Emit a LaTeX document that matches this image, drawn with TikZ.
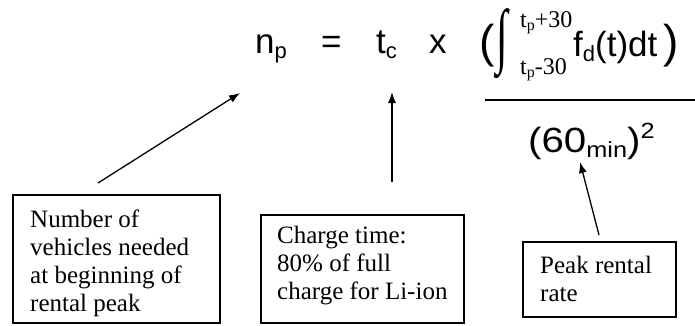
\documentclass[tikz,border=0pt]{standalone}
\usepackage{fontspec}
\setmainfont{Liberation Serif}
\newfontfamily\eqf{Liberation Sans}
\usetikzlibrary{arrows.meta}
\tikzset{
  eqtext/.style={anchor=base west, inner sep=0pt, font=\eqf\fontsize{35}{35}\selectfont},
  limtext/.style={anchor=base west, inner sep=0pt, font=\fontsize{24}{24}\selectfont},
  boxtext/.style={anchor=base west, inner sep=0pt, align=left, font=\fontsize{25}{28}\selectfont},
  frame/.style={draw, line width=1.4pt},
  pointer/.style={line width=1.3pt, -{Latex[length=11pt,width=8pt]}},
}
\newcommand{\lsub}[2]{\raisebox{#1}{\fontsize{22}{22}\selectfont #2}}
\newcommand{\ssub}[2]{\raisebox{#1}{\fontsize{16}{16}\selectfont #2}}
\begin{document}
\begin{tikzpicture}[x=1pt,y=-1pt]
\useasboundingbox (0,0) rectangle (695,325);
% equation
\node[eqtext] (np) at (255,53) {n\lsub{-5pt}{p}};
\node[eqtext] (eq) at (321,53) {=};
\node[eqtext] (tc) at (376,53) {t\lsub{-5pt}{c}};
\node[eqtext] (times) at (429,53) {x};
\node[anchor=base west, inner sep=0pt, font=\eqf\fontsize{46}{46}\selectfont] (lpar) at (479,57) {(};
\node[anchor=center, inner sep=0pt, font=\fontsize{42}{42}\selectfont] (int) at (502,44) {\scalebox{1}[1.7]{∫}};
\node[limtext] (up) at (520,27) {t\ssub{-3pt}{p}+30};
\node[limtext] (lo) at (520,74) {t\ssub{-3pt}{p}-30};
\node[eqtext] (fd) at (573,56) {f\lsub{-5pt}{d}(t)dt};
\node[anchor=base west, inner sep=0pt, font=\eqf\fontsize{46}{46}\selectfont] (rpar) at (663,57) {)};
\coordinate (fl) at (485,100);
\coordinate (fr) at (695,100);
\draw[line width=1.5pt] (fl) -- (fr);
\node[eqtext] (den) at (528,152) {\scalebox{1.15}[1]{(60\lsub{-5pt}{min})\lsub{14pt}{2}}};
% boxes
\draw[frame] (13,195) rectangle (220,323);
\node[boxtext] (b1) at (30,311) {Number of\\vehicles needed\\at beginning of\\rental peak};
\draw[frame] (261,215) rectangle (464,323);
\node[boxtext] (b2) at (277,299) {Charge time:\\80\% of full\\charge for Li-ion};
\draw[frame] (523,242) rectangle (676,317);
\node[boxtext] (b3) at (540,301) {Peak rental\\rate};
% arrows
\coordinate (a1s) at (98,183);
\coordinate (a1e) at (240,93);
\coordinate (a2s) at (392,182);
\coordinate (a2e) at (392,92);
\coordinate (a3s) at (599,235);
\coordinate (a3e) at (580,162);
\draw[pointer] (a1s) -- (a1e);
\draw[pointer] (a2s) -- (a2e);
\draw[pointer] (a3s) -- (a3e);
\end{tikzpicture}
\end{document}
